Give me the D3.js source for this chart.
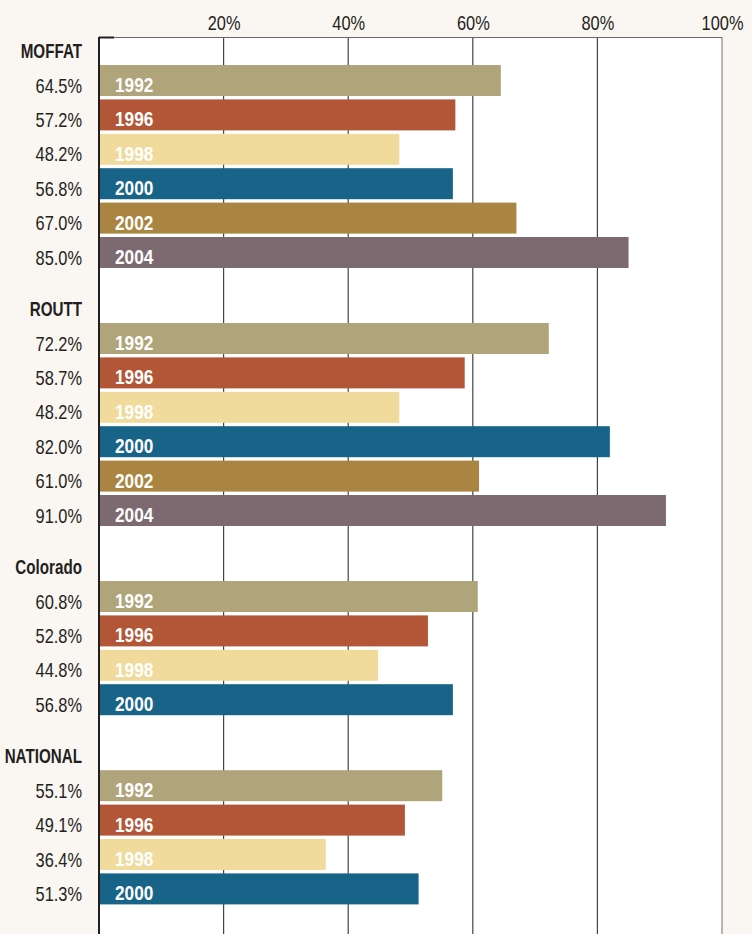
<!DOCTYPE html>
<html>
<head>
<meta charset="utf-8">
<script src="https://cdn.jsdelivr.net/npm/d3@7"></script>
<style>
  body { margin: 0; background: #faf6f2; }
  svg text { font-family: "Liberation Sans", Arial, sans-serif; }
</style>
</head>
<body>
<svg id="chart"></svg>
<script>
  // chart data
  var groups = ["MOFFAT", "ROUTT", "Colorado", "NATIONAL"];
  var years = ["1992", "1996", "1998", "2000", "2002", "2004"];
  var moffat = [64.5, 57.2, 48.2, 56.8, 67.0, 85.0];
  var routt = [72.2, 58.7, 48.2, 82.0, 61.0, 91.0];
  var colorado = [60.8, 52.8, 44.8, 56.8];
  var national = [55.1, 49.1, 36.4, 51.3];
  var ticks = [20, 40, 60, 80, 100];

  var width = 752, height = 934;
  var margin = {top: 37, right: 30, left: 99};
  var barH = 31;
  var narrow = 0.82; // squeeze Liberation Sans to a condensed look

  const color = {
    "1992": "#afa47a",
    "1996": "#b25637",
    "1998": "#f0db9c",
    "2000": "#186388",
    "2002": "#a98541",
    "2004": "#7d6a70"
  };

  var series = [moffat, routt, colorado, national];

  // build rows: each group gets a header then its bars, 2.5 slots between groups
  var rows = [], headers = [];
  var slot = 0;
  series.forEach(function (vals, gi) {
    headers.push({name: groups[gi], slot: slot});
    vals.forEach(function (v, i) {
      rows.push({group: groups[gi], year: years[i], value: v, slot: slot});
      slot += 1;
    });
    slot += 1.5;
  });

  var x = d3.scaleLinear().domain([0, 100]).range([margin.left, width - margin.right]);
  var y = d3.scaleLinear().domain([0, 1]).range([65, 65 + 34.4]);

  var svg = d3.select("#chart").attr("width", width).attr("height", height);

  // plot background
  svg.append("rect")
    .attr("x", x(0)).attr("y", margin.top)
    .attr("width", x(100) - x(0)).attr("height", height - margin.top)
    .attr("fill", "#fff");

  // gridlines
  svg.append("g")
    .selectAll("line")
    .data(ticks)
    .join("line")
      .attr("x1", d => x(d)).attr("x2", d => x(d))
      .attr("y1", margin.top).attr("y2", height)
      .attr("stroke", d => d == 100 ? "#888" : "#444")
      .attr("stroke-width", 1.2);

  // top border
  svg.append("line")
    .attr("x1", x(0)).attr("x2", x(100))
    .attr("y1", margin.top + 0.5).attr("y2", margin.top + 0.5)
    .attr("stroke", "#666").attr("stroke-width", 1);

  // top axis labels
  var xAxis = d3.axisTop(x).tickValues(ticks).tickFormat(d => d + "%").tickSize(0).tickPadding(0);
  var ax = svg.append("g").attr("transform", "translate(0,30)").call(xAxis);
  ax.select(".domain").remove();
  ax.selectAll("text")
    .attr("dy", 0)
    .attr("font-size", 20)
    .attr("fill", "#231f20")
    .attr("font-family", null)
    .attr("transform", `scale(${narrow},1)`);

  // bars
  svg.append("g")
    .selectAll("rect")
    .data(rows)
    .join("rect")
      .attr("x", x(0))
      .attr("y", d => y(d.slot))
      .attr("width", d => x(d.value) - x(0))
      .attr("height", barH)
      .attr("fill", d => color[d.year]);

  // year labels inside bars
  svg.append("g")
    .selectAll("text")
    .data(rows)
    .join("text")
      .attr("transform", d => `translate(${x(0) + 16},${y(d.slot) + 27}) scale(${narrow},1)`)
      .attr("fill", "#fff")
      .attr("font-weight", "bold")
      .attr("font-size", 21)
      .text(d => d.year);

  // value labels left
  svg.append("g")
    .selectAll("text")
    .data(rows)
    .join("text")
      .attr("transform", d => `translate(82,${y(d.slot) + 27.5}) scale(${narrow},1)`)
      .attr("text-anchor", "end")
      .attr("fill", "#231f20")
      .attr("font-size", 20)
      .text(d => d.value.toFixed(1) + "%");

  // group headers
  svg.append("g")
    .selectAll("text")
    .data(headers)
    .join("text")
      .attr("transform", d => `translate(82,${y(d.slot) - 7.5}) scale(0.76,1)`)
      .attr("text-anchor", "end")
      .attr("fill", "#231f20")
      .attr("font-weight", "bold")
      .attr("font-size", 20)
      .text(d => d.name);

  // left axis line with short top tick
  svg.append("line")
    .attr("x1", x(0)).attr("x2", x(0))
    .attr("y1", margin.top).attr("y2", height)
    .attr("stroke", "#231f20").attr("stroke-width", 2);
  svg.append("line")
    .attr("x1", x(0)).attr("x2", x(0) + 15)
    .attr("y1", margin.top + 0.5).attr("y2", margin.top + 0.5)
    .attr("stroke", "#231f20").attr("stroke-width", 2);
</script>
</body>
</html>
